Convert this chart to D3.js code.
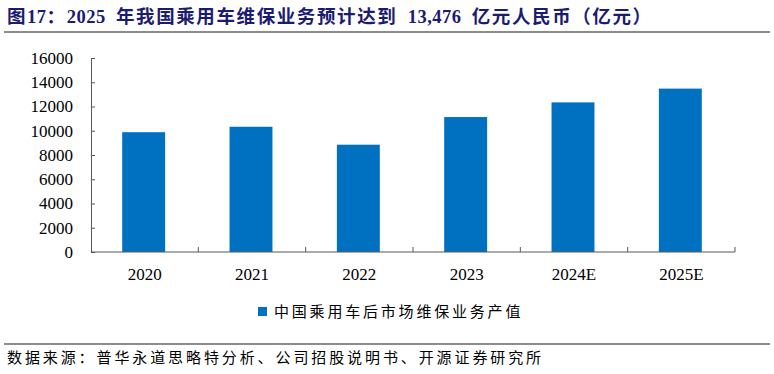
<!DOCTYPE html>
<html>
<head>
<meta charset="utf-8">
<script src="https://cdn.jsdelivr.net/npm/d3@7"></script>
<style>
  body { margin: 0; background: #fff; }
</style>
</head>
<body>
<div id="viz"></div>
<script>
const categories = ["2020", "2021", "2022", "2023", "2024E", "2025E"];
const values = [9880, 10330, 8850, 11130, 12340, 13476];
const yTicks = [0, 2000, 4000, 6000, 8000, 10000, 12000, 14000, 16000];
const seriesName = "中国乘用车后市场维保业务产值";
const titleText = "图17：2025 年我国乘用车维保业务预计达到 13,476 亿元人民币（亿元）";
const sourceText = "数据来源：普华永道思略特分析、公司招股说明书、开源证券研究所";

const width = 774, height = 374;
const margin = { top: 58, left: 91, right: 39, bottom: 122 };
const serif = "'Liberation Serif', 'Times New Roman', serif";
const cjk = "'Noto Sans CJK SC', sans-serif";

const svg = d3.select("#viz").append("svg")
    .attr("width", width)
    .attr("height", height);

// title: latin runs in serif, CJK runs spaced out
const title = svg.append("text")
    .attr("x", 7)
    .attr("y", 23)
    .attr("font-weight", "bold")
    .attr("font-size", 18.5)
    .attr("fill", "#1b1b72");
titleText.match(/[\x00-\x7f]+|[^\x00-\x7f]+/g).forEach(run => {
    const latin = /^[\x00-\x7f]/.test(run);
    title.append("tspan")
        .attr("font-family", latin ? serif : cjk)
        .attr("letter-spacing", latin ? 0.5 : 1.6)
        .style("white-space", "pre")
        .text(run.replace(/ /g, "\u00a0\u00a0"));
});

svg.append("line")
    .attr("x1", 4).attr("x2", 770)
    .attr("y1", 32).attr("y2", 32)
    .attr("stroke", "#8c8c8c").attr("stroke-width", 2);

const x = d3.scaleBand()
    .domain(categories)
    .range([margin.left, width - margin.right])
    .paddingInner(0.6)
    .paddingOuter(0.3);

const y = d3.scaleLinear()
    .domain([0, 16000])
    .range([height - margin.bottom, margin.top]);

// bars
svg.append("g").selectAll("rect")
    .data(values)
    .enter().append("rect")
    .attr("x", (d, i) => x(categories[i]) - 1)
    .attr("y", d => y(d))
    .attr("width", x.bandwidth())
    .attr("height", d => y(0) - y(d))
    .attr("fill", "#0070c0");

// y axis, ticks pointing inward
const yAxis = svg.append("g")
    .attr("transform", `translate(${margin.left},0)`)
    .call(d3.axisLeft(y).tickValues(yTicks).tickSize(-4).tickPadding(18).tickFormat(d3.format("d")));
yAxis.select(".domain").attr("stroke", "#595959");
yAxis.selectAll(".tick line").attr("stroke", "#595959");
yAxis.selectAll("text")
    .attr("font-family", serif)
    .attr("font-size", 17)
    .attr("fill", "#000");

// x axis with ticks between categories
const xAxisG = svg.append("g")
    .attr("transform", `translate(0,${y(0)})`);
xAxisG.append("line")
    .attr("x1", margin.left).attr("x2", width - margin.right)
    .attr("stroke", "#595959");
const bounds = d3.range(1, categories.length + 1).map(i => x(categories[0]) - x.step() * x.paddingOuter() + x.step() * i);
xAxisG.selectAll(".sep")
    .data(bounds)
    .enter().append("line")
    .attr("x1", d => d).attr("x2", d => d)
    .attr("y1", 0).attr("y2", -5)
    .attr("stroke", "#595959");
xAxisG.selectAll(".lbl")
    .data(categories)
    .enter().append("text")
    .attr("x", d => x(d) + x.bandwidth() / 2)
    .attr("y", 28)
    .attr("text-anchor", "middle")
    .attr("font-family", serif)
    .attr("font-size", 17)
    .attr("fill", "#000")
    .text(d => d);

// legend
svg.append("rect")
    .attr("x", 258).attr("y", 307)
    .attr("width", 9).attr("height", 9)
    .attr("fill", "#0070c0");
svg.append("text")
    .attr("x", 274)
    .attr("y", 317)
    .attr("font-family", cjk)
    .attr("font-size", 15)
    .attr("letter-spacing", 2.8)
    .attr("fill", "#000")
    .text(seriesName);

// bottom rule and source
svg.append("line")
    .attr("x1", 4).attr("x2", 770)
    .attr("y1", 344).attr("y2", 344)
    .attr("stroke", "#8c8c8c").attr("stroke-width", 2);
svg.append("text")
    .attr("x", 7)
    .attr("y", 363)
    .attr("font-family", cjk)
    .attr("font-size", 15)
    .attr("letter-spacing", 2.9)
    .attr("fill", "#000")
    .text(sourceText);
</script>
</body>
</html>
